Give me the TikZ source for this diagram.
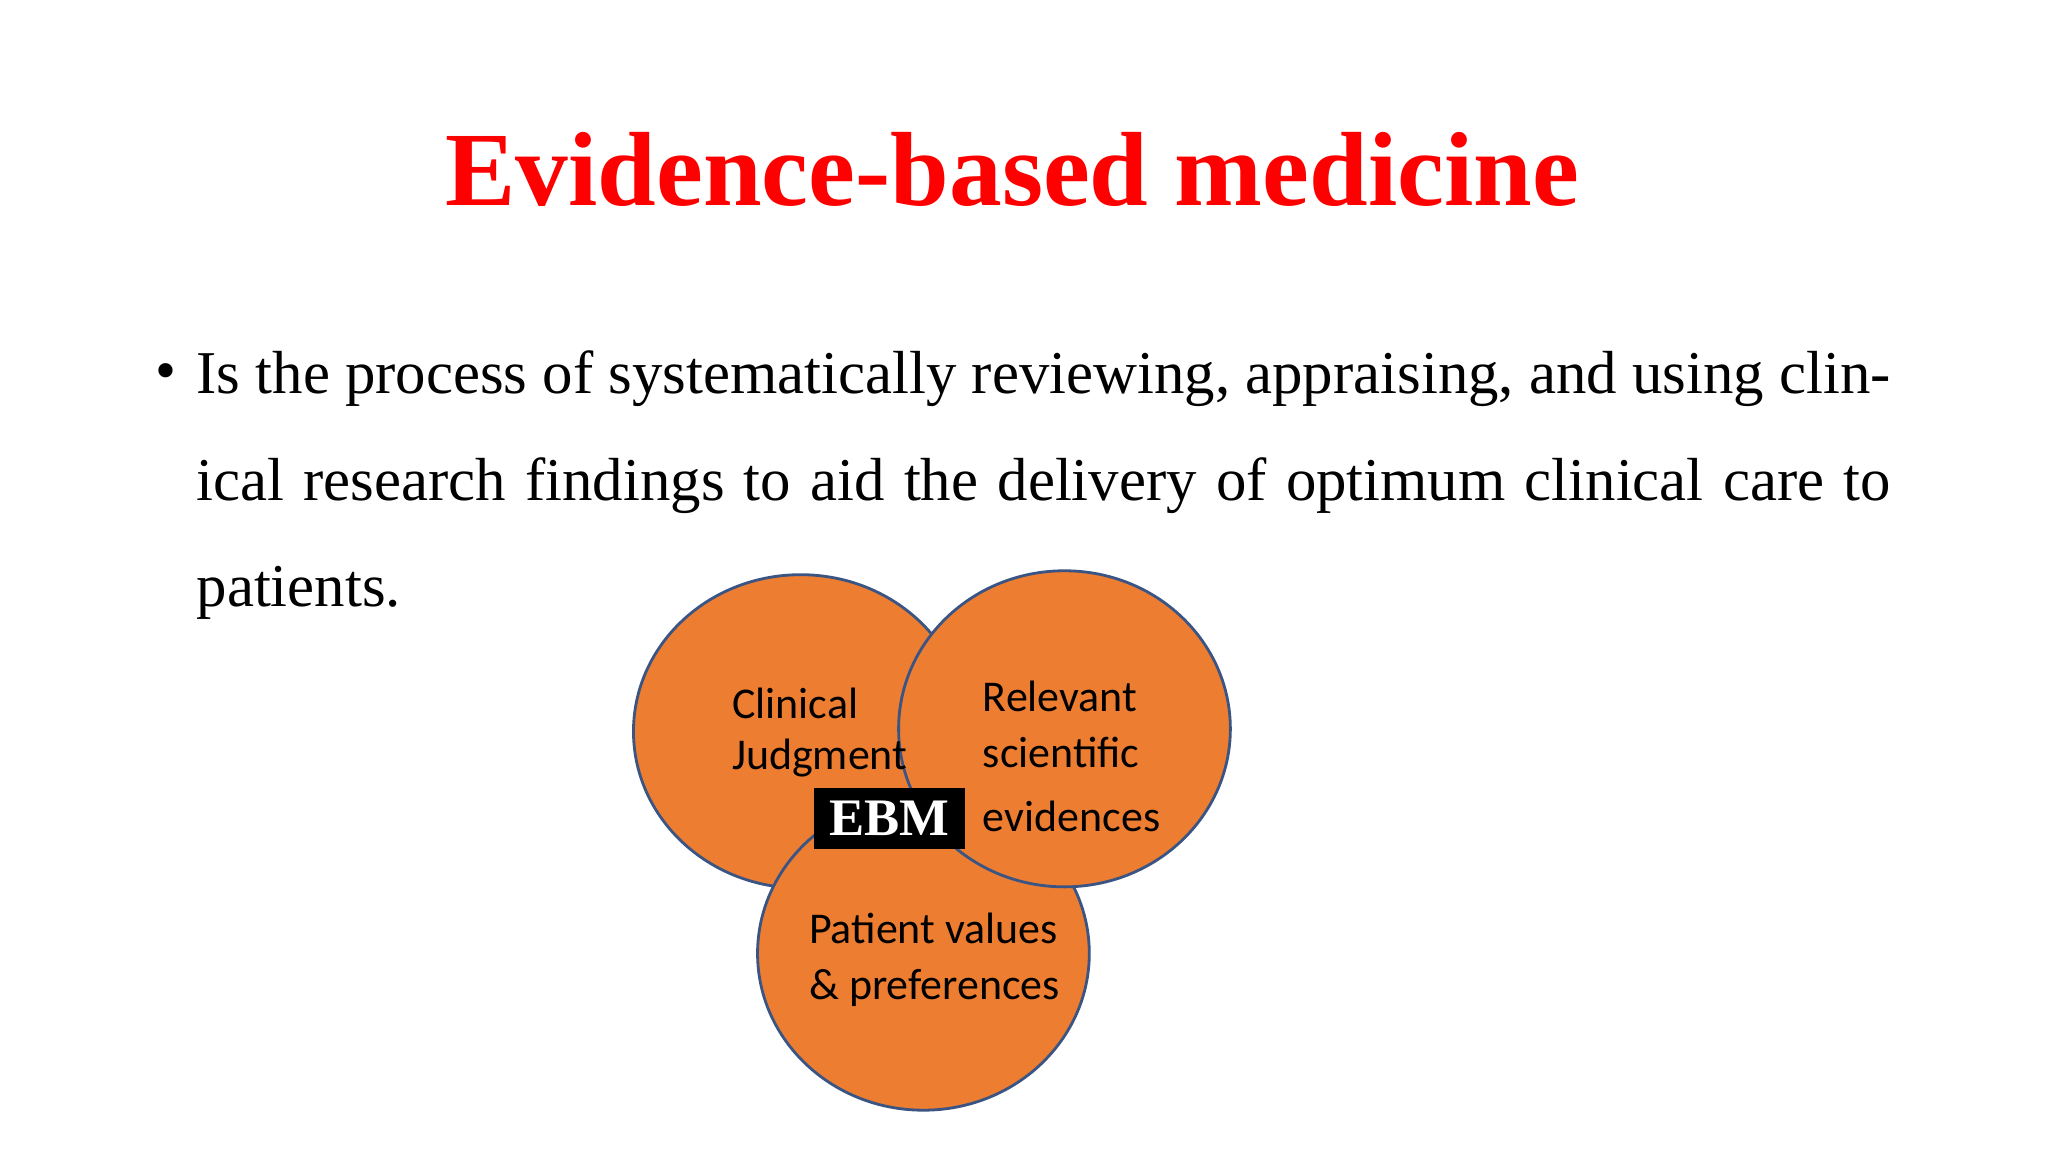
\documentclass[tikz,border=0pt]{standalone}
\usepackage{fontspec}
\setmainfont{Liberation Serif}
\newfontfamily\calib{Carlito}
\definecolor{orng}{HTML}{ED7D31}
\definecolor{edge}{HTML}{3A5583}
\begin{document}
\begin{tikzpicture}[x=0.01306cm,y=-0.01306cm,
  circ/.style={fill=orng,draw=edge,line width=0.8pt},
  lbl/.style={font=\calib\fontsize{12.5}{15}\selectfont,align=left,anchor=west,inner sep=0pt}]
\useasboundingbox (0,0) rectangle (1568,882);
\node (title) at (775,130) {\fontsize{30}{36}\selectfont\bfseries\color{red}Evidence-based medicine};
\node (bul) at (127,289) {\fontsize{17}{20}\selectfont\textbullet};
\node[anchor=north west,inner sep=0pt,text width=16.94cm,align=justify,font=\fontsize{17.3}{30.3}\selectfont] (para) at (150,268)
 {Is the process of systematically reviewing, appraising, and using clinical research findings to aid the delivery of optimum clinical care to patients.};
\draw[circ] (613,560) ellipse [x radius=128,y radius=120];
\draw[circ] (707,730) ellipse [x radius=127,y radius=120];
\draw[circ] (815,558) ellipse [x radius=127,y radius=121];
\node[lbl] (cj) at (560,561) {Clinical\\[-0.5pt]Judgment};
\node[lbl] (rs) at (752,579) {Relevant\\[1pt]scientific\\[3pt]evidences};
\node[lbl] (pv) at (619,735) {Patient values\\[1pt]\& preferences};
\node[fill=black,text=white,minimum width=116*0.01306cm,minimum height=47*0.01306cm,inner sep=0pt,font=\fontsize{15}{18}\selectfont\bfseries] (ebm) at (681,626.5) {EBM};
\end{tikzpicture}
\end{document}
